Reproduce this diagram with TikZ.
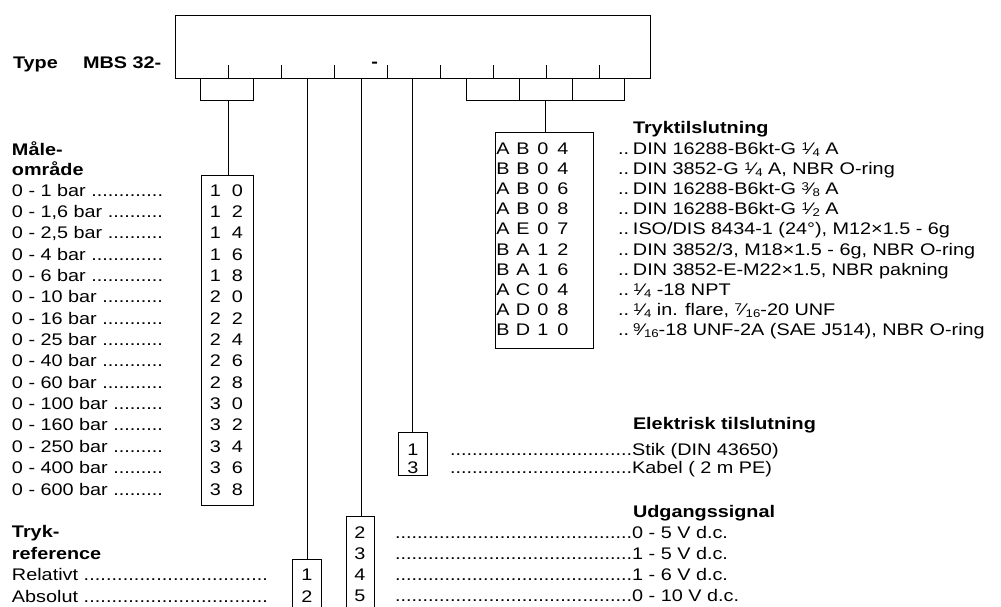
\documentclass[tikz,border=0pt]{standalone}
\usepackage{fontspec}
\setmainfont{Liberation Sans}[FakeStretch=1.18]
\newcommand\fs{\fontsize{16.8}{20}\selectfont}
\newcommand\smf{\fontsize{11.2}{12}\selectfont}
\newcommand\fr[2]{\raisebox{4pt}{\smf #1}\kern0.01em\char"2044\kern0.01em\raisebox{-1.7pt}{\smf #2}}
\newcommand\dl[2]{\hbox to #1{#2\xleaders\hbox{.}\hfill}}
\newcommand\dr[1]{\hbox to #1{\xleaders\hbox{.}\hfill}}
\newcommand\cdf[4]{\makebox[20pt]{#1}\makebox[20pt]{#2}\makebox[20pt]{#3}\makebox[20pt]{#4}}
\newcommand\cdt[2]{\makebox[22pt]{#1}\makebox[22pt]{#2}}
\begin{document}
\begin{tikzpicture}[x=1pt,y=-1pt,
  txt/.style={anchor=base west, inner sep=0pt, outer sep=0pt, font=\fs},
  ctxt/.style={anchor=base, inner sep=0pt, outer sep=0pt, font=\fs},
  hd/.style={txt, font=\fs\bfseries},
  codebox/.style={draw, line width=0.9pt, anchor=north west, inner sep=0pt, outer sep=0pt},
  ln/.style={line width=0.9pt}]
\useasboundingbox (0,0) rectangle (1001,606);
\clip (0,0) rectangle (1001,606);
\fill[white] (0,0) rectangle (1001,606);

% title
\node[hd] (type) at (13,68) {Type};
\node[hd] (mbs) at (83,68) {MBS 32-};
\node[ctxt, font=\fs\bfseries] (dash) at (374.7,67.5) {-};

% main box
\node[codebox, minimum width=475.7pt, minimum height=63pt] (main) at (175,15) {};
\foreach \x in {228,281.3,334.3,387,440,493,546,599}
  \draw[ln] (\x,65) -- (\x,78);

% code boxes
\node[codebox, minimum width=52pt, minimum height=330pt] (range) at (201.7,175.7) {};
\node[codebox, minimum width=98.3pt, minimum height=215.3pt] (conn) at (495,132.7) {};
\node[codebox, minimum width=29pt, minimum height=42.7pt] (elec) at (398.3,432.3) {};
\node[codebox, minimum width=28.3pt, minimum height=110pt] (outp) at (346,516) {};
\node[codebox, minimum width=29pt, minimum height=70pt] (ref) at (292.7,559.3) {};

% brackets and connectors
\coordinate (lb) at (228,100);
\draw[ln] (200,78) -- (200,100) -- (253.7,100) -- (253.7,78);
\draw[ln] (lb) -- (lb |- range.north);
\coordinate (rb) at (545.7,100);
\draw[ln] (466.7,78) -- (466.7,100) -- (624.3,100) -- (624.3,78);
\draw[ln] (519.7,78) -- (519.7,100);
\draw[ln] (572.3,78) -- (572.3,100);
\draw[ln] (rb) -- (rb |- conn.north);
\coordinate (tref) at (307,78);
\coordinate (tout) at (361,78);
\coordinate (tel) at (412.7,78);
\draw[ln] (tref) -- (tref |- ref.north);
\draw[ln] (tout) -- (tout |- outp.north);
\draw[ln] (tel) -- (tel |- elec.north);

% measuring range
\node[hd] (mh1) at (12,155.5) {Måle-};
\node[hd] (mh2) at (12,175.5) {område};
\foreach \lab/\a/\b [count=\i from 0] in {{0 - 1 bar}/1/0, {0 - 1,6 bar}/1/2, {0 - 2,5 bar}/1/4, {0 - 4 bar}/1/6, {0 - 6 bar}/1/8, {0 - 10 bar}/2/0, {0 - 16 bar}/2/2, {0 - 25 bar}/2/4, {0 - 40 bar}/2/6, {0 - 60 bar}/2/8, {0 - 100 bar}/3/0, {0 - 160 bar}/3/2, {0 - 250 bar}/3/4, {0 - 400 bar}/3/6, {0 - 600 bar}/3/8}{
  \node[txt] (rl\i) at (12,196+21.36*\i) {\dl{151pt}{\lab\ }};
  \node[txt] (rc\i) at (204.5,196+21.36*\i) {\cdt{\a}{\b}};
}

% pressure connection
\node[hd] (ch) at (633,133) {Tryktilslutning};
\foreach \p/\q/\r/\s/\d [count=\i from 0] in {
  A/B/0/4/{DIN 16288-B6kt-G \fr14 A},
  B/B/0/4/{DIN 3852-G \fr14 A, NBR O-ring},
  A/B/0/6/{DIN 16288-B6kt-G \fr38 A},
  A/B/0/8/{DIN 16288-B6kt-G \fr12 A},
  A/E/0/7/{ISO/DIS 8434-1 (24°), M12×1.5 - 6g},
  B/A/1/2/{DIN 3852/3, M18×1.5 - 6g, NBR O-ring},
  B/A/1/6/{DIN 3852-E-M22×1.5, NBR pakning},
  A/C/0/4/{\fr14 -18 NPT},
  A/D/0/8/{\fr14 in. flare, \fr7{16}-20 UNF},
  B/D/1/0/{\fr9{16}-18 UNF-2A (SAE J514), NBR O-ring}}{
  \node[txt] (cc\i) at (493,154.3+20.15*\i) {\cdf{\p}{\q}{\r}{\s}};
  \node[txt] (cd\i) at (618,154.3+20.15*\i) {\hbox to 15pt{..\hfil}\d};
}

% electrical connection
\node[hd] (eh) at (633,429) {Elektrisk tilslutning};
\node[ctxt] (e1) at (413,455) {1};
\node[ctxt] (e3) at (413,473.5) {3};
\node[txt] (ed1) at (450,455) {\dr{182pt}Stik (DIN 43650)};
\node[txt] (ed3) at (450,473.5) {\dr{182pt}Kabel ( 2 m PE)};

% output signal
\node[hd] (oh) at (633,517) {Udgangssignal};
\foreach \n/\t [count=\i from 0] in {2/{0 - 5 V d.c.}, 3/{1 - 5 V d.c.}, 4/{1 - 6 V d.c.}, 5/{0 - 10 V d.c.}}{
  \node[ctxt] (on\i) at (360,538+21.3*\i) {\n};
  \node[txt] (od\i) at (395,538+21.3*\i) {\dr{237pt}\t};
}

% pressure reference
\node[hd] (th1) at (12,537.5) {Tryk-};
\node[hd] (th2) at (12,559) {reference};
\node[txt] (tr1) at (12,580.5) {\dl{256pt}{Relativt }};
\node[txt] (tr2) at (12,602) {\dl{256pt}{Absolut }};
\node[ctxt] (tn1) at (307,580.5) {1};
\node[ctxt] (tn2) at (307,602) {2};
\end{tikzpicture}
\end{document}
